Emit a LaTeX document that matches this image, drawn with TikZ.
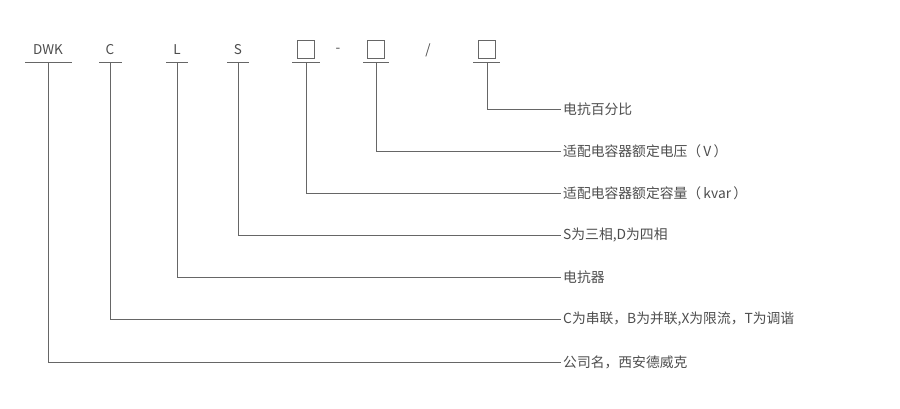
\documentclass[tikz,border=0pt]{standalone}
\usepackage{fontspec}
\setmainfont{Noto Sans CJK SC}
\usetikzlibrary{positioning}

\definecolor{linegray}{HTML}{666666}
\definecolor{textgray}{HTML}{4D4D4D}

\begin{document}
\begin{tikzpicture}[x=1pt, y=-1pt,
    code/.style={inner sep=0pt, text=textgray, font=\fontsize{13.5}{15}\selectfont},
    blank/.style={draw=linegray, line width=0.9pt, minimum width=17pt, minimum height=18pt, inner sep=0pt},
    desc/.style={anchor=west, inner sep=2pt, text=textgray, font=\fontsize{13.8}{16}\selectfont},
    bar/.style={draw=linegray, line width=0.8pt},
    lead/.style={draw=linegray, line width=0.8pt}]
  \useasboundingbox (0,0) rectangle (900,408);

  % Code letters
  \node[code] (dwk) at (48,50) {DWK};
  \node[code] (c) at (110,50) {C};
  \node[code] (l) at (177,50) {L};
  \node[code] (s) at (238,50) {S};
  \node[blank] (boxa) at (306,49) {};
  \node[code] (dash) at (338,50) {-};
  \node[blank] (boxb) at (376,49) {};
  \node[code] (slash) at (428,50) {/};
  \node[blank] (boxc) at (487,49) {};

  % Underlines
  \draw[bar] (25,62) -- (72,62);
  \draw[bar] (99,62) -- (122,62);
  \draw[bar] (166,62) -- (188,62);
  \draw[bar] (227,62) -- (249,62);
  \draw[bar] (292,62) -- (320,62);
  \draw[bar] (363,62) -- (389,62);
  \draw[bar] (473,62) -- (500,62);

  \coordinate (dwkbar) at (48,62);
  \coordinate (cbar) at (110,62);
  \coordinate (lbar) at (177,62);
  \coordinate (sbar) at (238,62);
  \coordinate (boxabar) at (306,62);
  \coordinate (boxbbar) at (376,62);
  \coordinate (boxcbar) at (487,62);

  % Descriptions
  \node[desc] (boxcdesc) at (561,109) {电抗百分比};
  \node[desc] (boxbdesc) at (561,151) {适配电容器额定电压（\,V\,）};
  \node[desc] (boxadesc) at (561,193) {适配电容器额定容量（\,kvar\,）};
  \node[desc] (sdesc) at (561,235) {S为三相,D为四相};
  \node[desc] (ldesc) at (561,277) {电抗器};
  \node[desc] (cdesc) at (561,319) {C为串联，B为并联,X为限流，T为调谐};
  \node[desc] (dwkdesc) at (561,362) {公司名，西安德威克};

  % Leaders
  \draw[lead] (boxcbar) |- (boxcdesc.west);
  \draw[lead] (boxbbar) |- (boxbdesc.west);
  \draw[lead] (boxabar) |- (boxadesc.west);
  \draw[lead] (sbar) |- (sdesc.west);
  \draw[lead] (lbar) |- (ldesc.west);
  \draw[lead] (cbar) |- (cdesc.west);
  \draw[lead] (dwkbar) |- (dwkdesc.west);
\end{tikzpicture}
\end{document}
